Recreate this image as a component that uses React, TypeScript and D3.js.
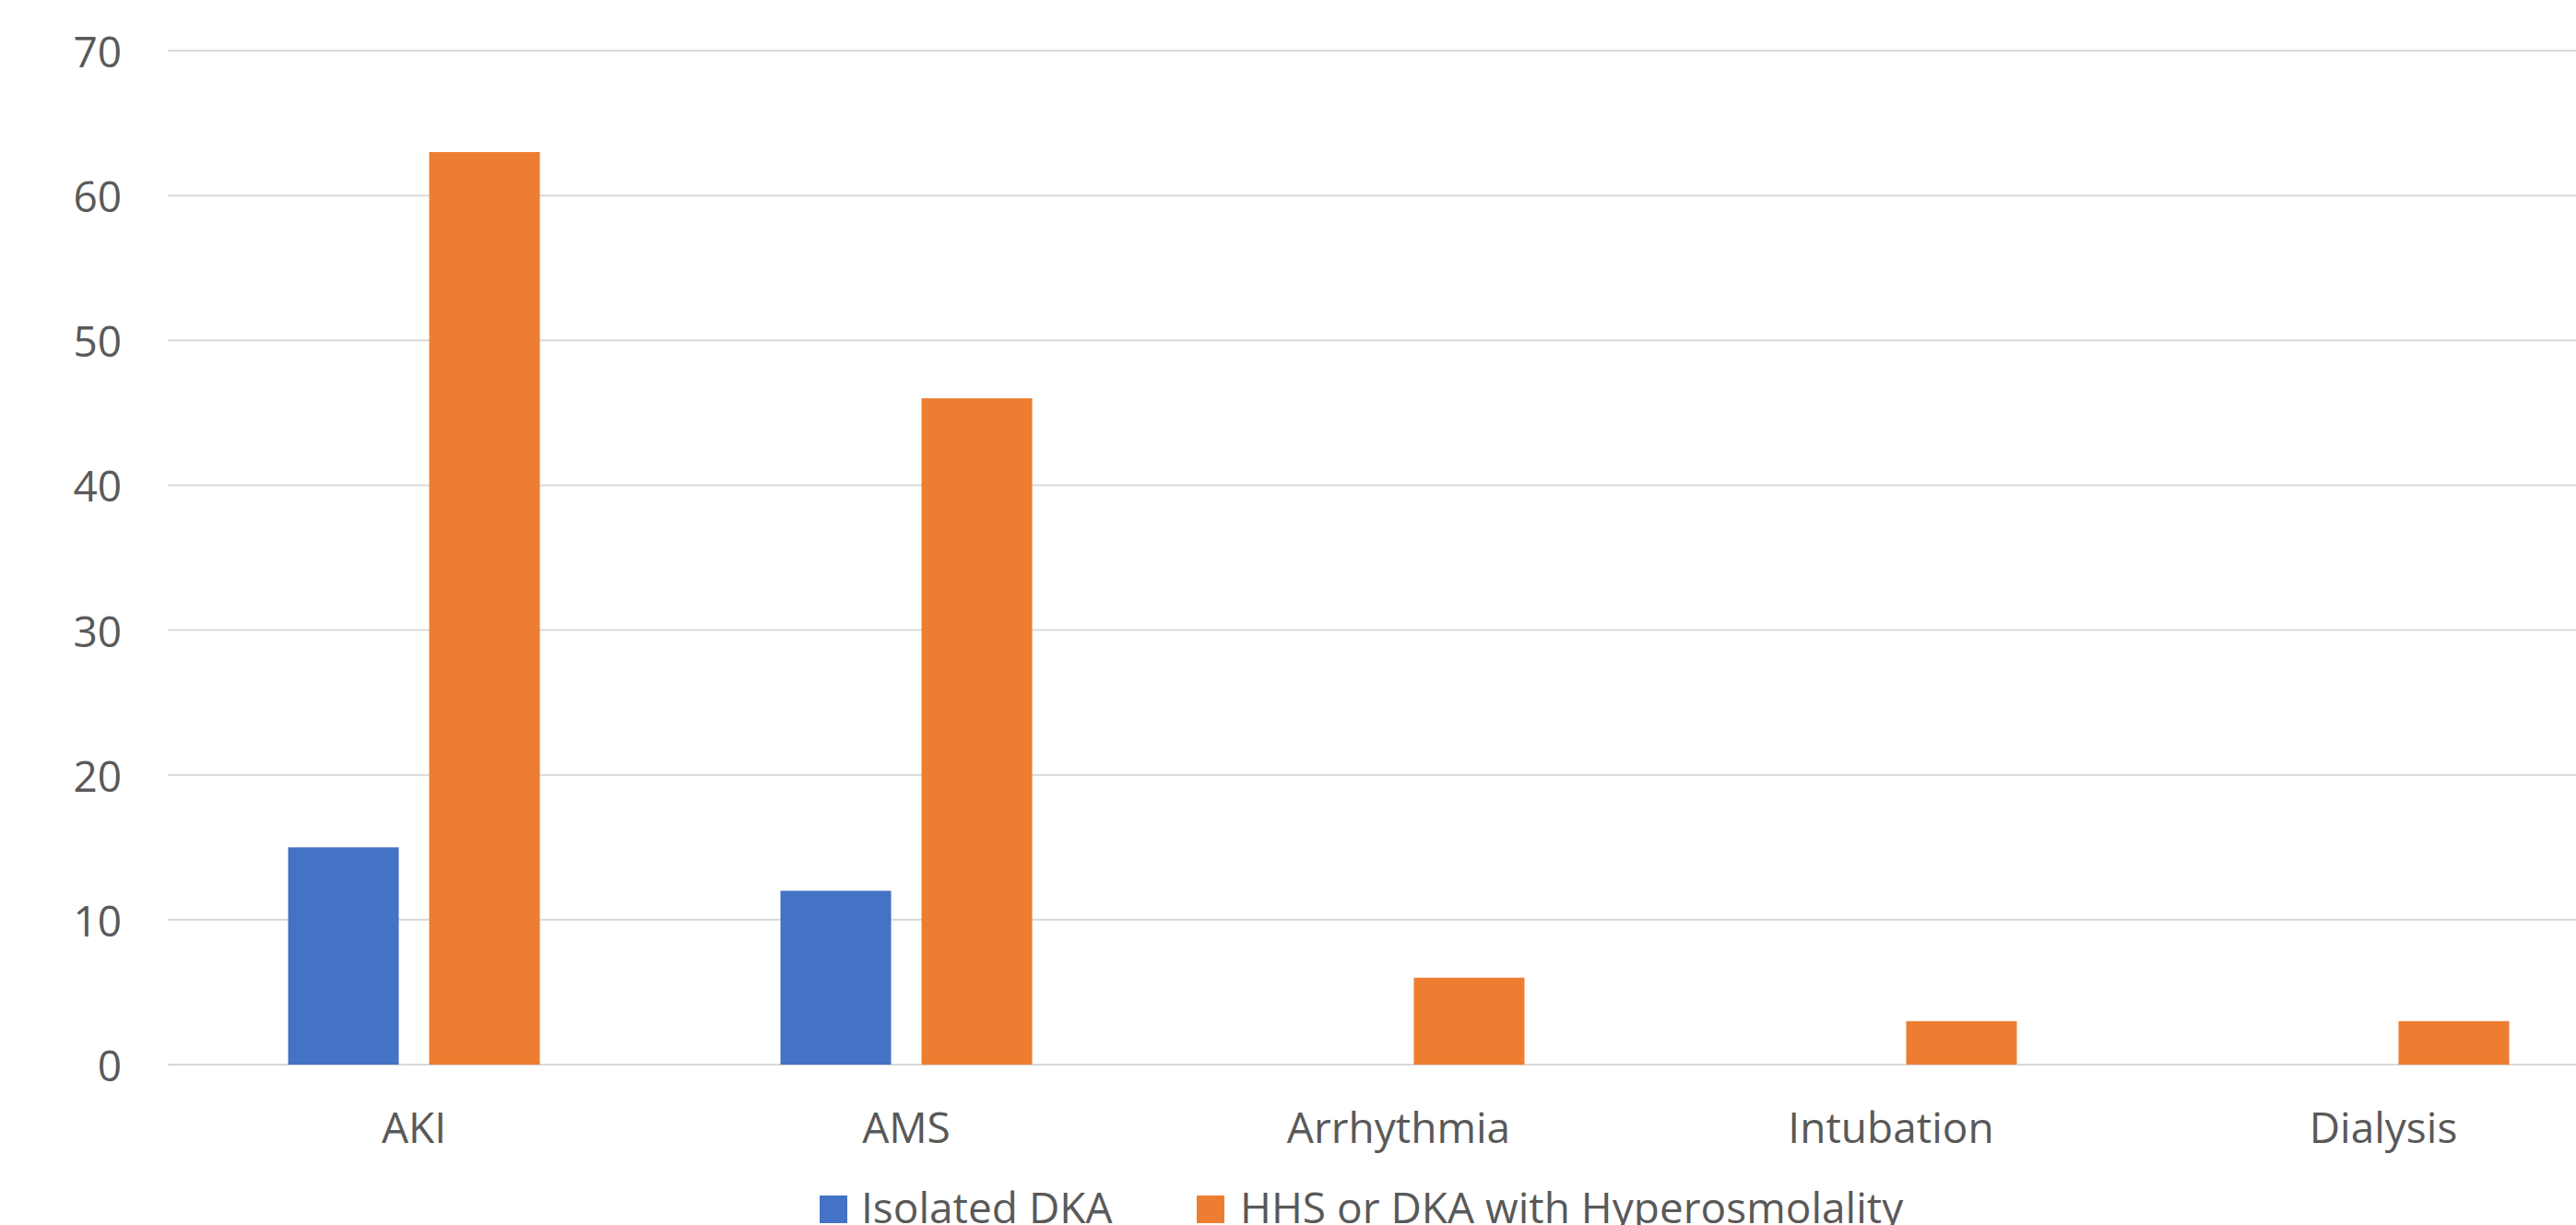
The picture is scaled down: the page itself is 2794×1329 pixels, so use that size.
import React from "react";
import * as d3 from "d3";

// Complications by presentation type
const categories = ["AKI", "AMS", "Arrhythmia", "Intubation", "Dialysis"];
const seriesNames = ["Isolated DKA", "HHS or DKA with Hyperosmolality"];
const isolatedDKA = [15, 12, 0, 0, 0];
const hhsOrHyperosmolar = [63, 46, 6, 3, 3];
const yTicks = [0, 10, 20, 30, 40, 50, 60, 70];
const seriesColors = ["#4472C4", "#ED7D31"];

const W = 2794;
const H = 1329;
const FONT = "'Open Sans', 'Noto Sans', sans-serif";
const TEXT = "#595959";

export default function App() {
  const plotLeft = 182;
  const plotRight = 2852; // plot area continues past the right edge
  const y0 = 1155;
  const yTop = 55;

  const x0 = d3.scaleBand<string>().domain(categories).range([plotLeft, plotRight]).padding(0);
  const groupW = 273;
  const x1 = d3
    .scaleBand<string>()
    .domain(seriesNames)
    .range([0, groupW])
    .paddingInner(33 / 153)
    .paddingOuter(0);
  const y = d3.scaleLinear().domain([0, 70]).range([y0, yTop]);

  const values = [isolatedDKA, hhsOrHyperosmolar];

  return (
    <svg
      width={W}
      height={H}
      style={{ position: "absolute", left: 0, top: 0, background: "#fff" }}
      fontFamily={FONT}
    >
      <rect x={0} y={0} width={W} height={H} fill="#fff" />
      {/* gridlines */}
      {yTicks.map((t) => (
        <line
          key={t}
          x1={plotLeft}
          x2={W}
          y1={y(t)}
          y2={y(t)}
          stroke="#D9D9D9"
          strokeWidth={2}
        />
      ))}
      {/* y tick labels */}
      {yTicks.map((t) => (
        <text
          key={"l" + t}
          x={132}
          y={y(t)}
          textAnchor="end"
          dominantBaseline="central"
          fontSize={46}
          fill={TEXT}
        >
          {t}
        </text>
      ))}
      {/* bars */}
      {categories.map((c, ci) => {
        const gx = (x0(c) as number) + x0.bandwidth() / 2 - groupW / 2;
        return (
          <g key={c}>
            {seriesNames.map((s, si) => {
              const v = values[si][ci];
              if (v <= 0) return null;
              return (
                <rect
                  key={s}
                  x={gx + (x1(s) as number)}
                  y={y(v)}
                  width={x1.bandwidth()}
                  height={y0 - y(v)}
                  fill={seriesColors[si]}
                />
              );
            })}
            <text
              x={(x0(c) as number) + x0.bandwidth() / 2}
              y={1240}
              textAnchor="middle"
              fontSize={46}
              fill={TEXT}
            >
              {c}
            </text>
          </g>
        );
      })}
      {/* legend */}
      {[
        { name: seriesNames[0], sx: 889, tx: 934 },
        { name: seriesNames[1], sx: 1298, tx: 1345 },
      ].map((l, i) => (
        <g key={l.name}>
          <rect x={l.sx} y={1297} width={30} height={30} fill={seriesColors[i]} />
          <text x={l.tx} y={1327} fontSize={46} fill={TEXT}>
            {l.name}
          </text>
        </g>
      ))}
    </svg>
  );
}
